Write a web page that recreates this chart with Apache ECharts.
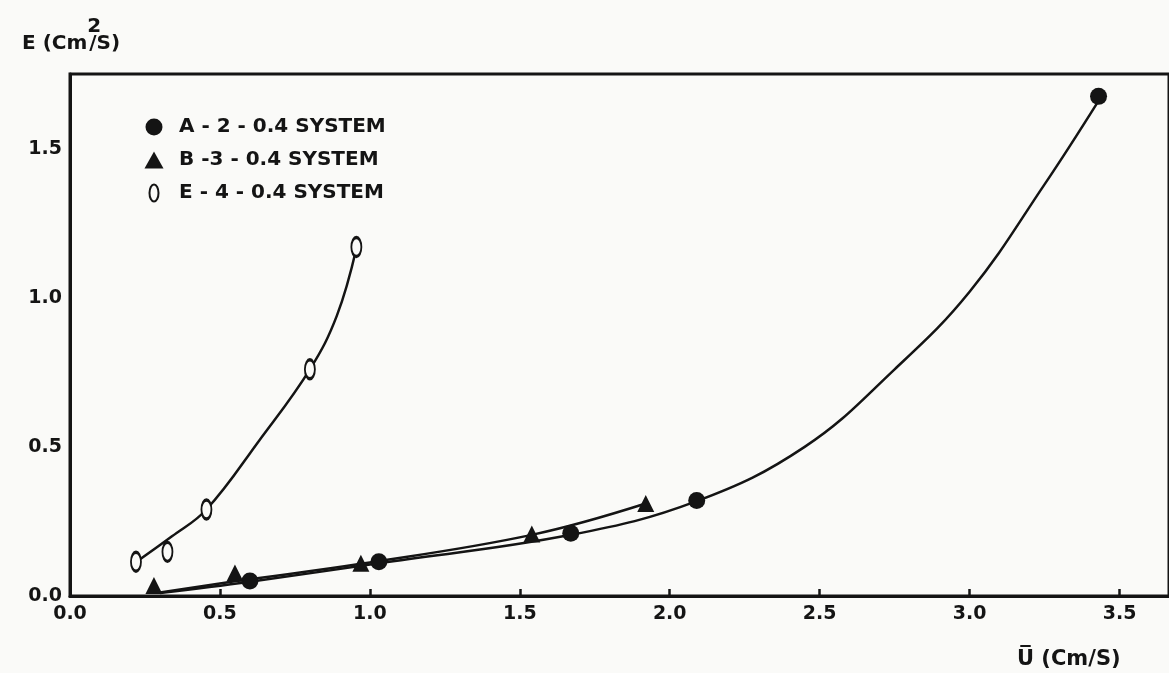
<!DOCTYPE html>
<html>
<head>
<meta charset="utf-8">
<title>E vs U</title>
<script src="https://cdn.jsdelivr.net/npm/echarts@6/dist/echarts.min.js"></script>
<style>
  html, body { margin: 0; padding: 0; background: #fafaf8; }
  #chart { width: 1169px; height: 673px; }
</style>
</head>
<body>
<div id="chart"></div>
<script>
// Measured points: mean velocity U (cm/s) vs dispersion E (cm^2/s)
const uA = [0.60, 1.03, 1.67, 2.09, 3.43];
const eA = [0.05, 0.115, 0.21, 0.32, 1.675];
const uB = [0.28, 0.55, 0.97, 1.54, 1.92];
const eB = [0.035, 0.077, 0.11, 0.208, 0.31];
const uE = [0.22, 0.325, 0.455, 0.80, 0.955];
const eE = [0.115, 0.148, 0.29, 0.76, 1.17];

// Hand-drawn fitted curves through each system
const fitA_u = [0.30, 0.60, 1.03, 1.67, 2.09, 2.45, 2.75, 3.00, 3.25, 3.43];
const fitA_e = [0.010, 0.048, 0.110, 0.205, 0.318, 0.50, 0.76, 1.02, 1.38, 1.66];
const fitB_u = [0.30, 0.555, 0.97, 1.54, 1.92];
const fitB_e = [0.012, 0.050, 0.108, 0.205, 0.310];
const fitE_u = [0.215, 0.34, 0.455, 0.63, 0.80, 0.89, 0.955];
const fitE_e = [0.110, 0.20, 0.290, 0.52, 0.76, 0.94, 1.165];

const names = ['A - 2 - 0.4 SYSTEM', 'B -3 - 0.4 SYSTEM', 'E - 4 - 0.4 SYSTEM'];
const xTicks = { min: 0, max: 3.665, step: 0.5 };
const yTicks = { min: 0, max: 1.75, step: 0.5 };

const zip = (a, b) => a.map((v, i) => [v, b[i]]);
const INK = '#141414';
const PAPER = '#fafaf8';
const FONT = 'DejaVu Sans';
// open oval marker, drawn as four cubic arcs
const oval = 'path://M10,0 C15.5,0 20,9 20,20 C20,31 15.5,40 10,40 C4.5,40 0,31 0,20 C0,9 4.5,0 10,0 Z';
// legend keys on a 40x17 box: the leading moves fix the box width
const ovalKey = 'path://M0,8.5 M40,8.5 M20,0 C22.5,0 24.5,3.8 24.5,8.5 C24.5,13.2 22.5,17 20,17 C17.5,17 15.5,13.2 15.5,8.5 C15.5,3.8 17.5,0 20,0 Z';
const triKey = 'path://M0,8.5 M40,8.5 M20,0 L29.5,17 L10.5,17 Z';

const chart = echarts.init(document.getElementById('chart'), null, { renderer: 'canvas' });

const fitLine = (data) => ({
  type: 'line', data, smooth: 0.4, symbol: 'none', silent: true,
  lineStyle: { color: INK, width: 2.5 }, z: 2
});

chart.setOption({
  backgroundColor: PAPER,
  animation: false,
  title: [
    {
      text: '{a|E (Cm}{s|2}{a|/S)}',
      left: 17, top: 12,
      textStyle: {
        rich: {
          a: { fontFamily: FONT, fontWeight: 'bold', fontSize: 20, color: INK, verticalAlign: 'bottom' },
          s: { fontFamily: FONT, fontWeight: 'bold', fontSize: 20, color: INK, verticalAlign: 'bottom', padding: [0, 0, 17, 0], width: 2 }
        }
      }
    },
    {
      text: 'U\u0305 (Cm/S)',
      left: 1012, top: 644,
      textStyle: { fontFamily: FONT, fontWeight: 'bold', fontSize: 21, color: INK }
    }
  ],
  grid: {
    left: 70, top: 74, right: -4, bottom: 77,
    show: true, borderColor: INK, borderWidth: 3, backgroundColor: 'transparent'
  },
  legend: {
    orient: 'vertical', left: 128, top: 112,
    itemWidth: 40, itemHeight: 17, itemGap: 13,
    data: [
      { name: names[0], icon: 'circle' },
      { name: names[1], icon: triKey },
      { name: names[2], icon: ovalKey }
    ],
    textStyle: { fontFamily: FONT, fontWeight: 'bold', fontSize: 20, color: INK }
  },
  xAxis: {
    type: 'value', min: xTicks.min, max: xTicks.max, interval: xTicks.step,
    axisLine: { show: true, onZero: false, lineStyle: { color: INK, width: 3 } },
    axisTick: { show: true, inside: true, length: 7, lineStyle: { color: INK, width: 2.5 } },
    splitLine: { show: false },
    axisLabel: {
      margin: 9, fontFamily: FONT, fontWeight: 'bold', fontSize: 19, color: INK,
      showMaxLabel: false, formatter: v => v.toFixed(1)
    }
  },
  yAxis: {
    type: 'value', min: yTicks.min, max: yTicks.max, interval: yTicks.step,
    axisLine: { show: true, onZero: false, lineStyle: { color: INK, width: 3 } },
    axisTick: { show: false },
    splitLine: { show: false },
    axisLabel: {
      margin: 8, fontFamily: FONT, fontWeight: 'bold', fontSize: 19, color: INK,
      showMaxLabel: false, formatter: v => v.toFixed(1)
    }
  },
  series: [
    fitLine(zip(fitA_u, fitA_e)),
    fitLine(zip(fitB_u, fitB_e)),
    fitLine(zip(fitE_u, fitE_e)),
    {
      name: names[0], type: 'scatter', data: zip(uA, eA), z: 5,
      symbol: 'circle', symbolSize: 17,
      itemStyle: { color: INK, opacity: 1 }
    },
    {
      name: names[1], type: 'scatter', data: zip(uB, eB), z: 5,
      symbol: 'triangle', symbolSize: 17,
      itemStyle: { color: INK, opacity: 1 }
    },
    {
      name: names[2], type: 'scatter', data: zip(uE, eE), z: 5,
      symbol: oval, symbolSize: [10, 19],
      itemStyle: { color: PAPER, borderColor: INK, borderWidth: 2.5, opacity: 1 }
    }
  ]
});
</script>
</body>
</html>
